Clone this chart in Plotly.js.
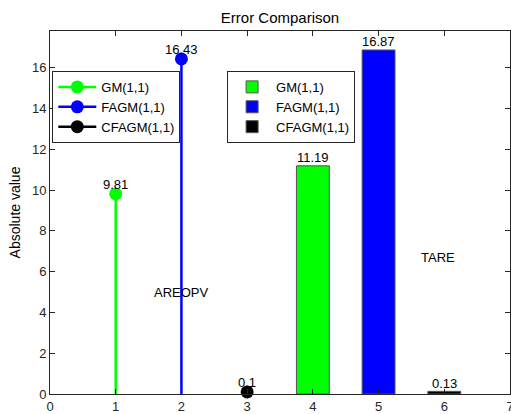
<!DOCTYPE html>
<html>
<head>
<meta charset="utf-8">
<script src="https://cdn.plot.ly/plotly-3.0.1.min.js"></script>
<style>html,body{margin:0;padding:0;background:#fff}#chart{width:511px;height:414px}</style>
</head>
<body>
<div id="chart"></div>
<script>
var seriesNames = ['GM(1,1)', 'FAGM(1,1)', 'CFAGM(1,1)'];
var seriesColors = ['#00ff00', '#0000ff', '#000000'];
var stemX = [1, 2, 3];
var stemValues = [9.81, 16.43, 0.1];
var stemLabels = ['9.81', '16.43', '0.1'];
var barX = [4, 5, 6];
var barValues = [11.19, 16.87, 0.13];
var barLabels = ['11.19', '16.87', '0.13'];
var xTicks = [0, 1, 2, 3, 4, 5, 6, 7];
var yTicks = [0, 2, 4, 6, 8, 10, 12, 14, 16];
var groupLabels = [{text: 'AREOPV', x: 2, y: 5}, {text: 'TARE', x: 5.9, y: 6.7}];

var font = 'Liberation Sans, Arial, sans-serif';
var traces = [];
var annotations = [];
for (var i = 0; i < stemX.length; i++) {
  traces.push({
    type: 'scatter', mode: 'lines+markers',
    x: [stemX[i], stemX[i]], y: [stemValues[i], 0],
    line: {color: seriesColors[i], width: 2.5},
    marker: {color: [seriesColors[i], 'rgba(0,0,0,0)'], size: 13, line: {width: 0}},
    name: seriesNames[i], legend: 'legend', cliponaxis: false
  });
  annotations.push({text: stemLabels[i], x: stemX[i], y: stemValues[i], xref: 'x', yref: 'y',
    showarrow: false, yshift: 9, font: {family: font, size: 13, color: '#000'}});
}
for (var j = 0; j < barX.length; j++) {
  traces.push({
    type: 'bar', x: [barX[j]], y: [barValues[j]], width: 0.5,
    marker: {color: seriesColors[j], line: {color: '#555', width: 1}},
    name: seriesNames[j], legend: 'legend2', cliponaxis: false
  });
  annotations.push({text: barLabels[j], x: barX[j], y: barValues[j], xref: 'x', yref: 'y',
    showarrow: false, yshift: 8, font: {family: font, size: 13, color: '#000'}});
}
groupLabels.forEach(function (g) {
  annotations.push({text: g.text, x: g.x, y: g.y, xref: 'x', yref: 'y', showarrow: false,
    font: {family: font, size: 13, color: '#000'}});
});
var layout = {
  width: 511, height: 414,
  margin: {l: 50, r: 1, t: 31, b: 20},
  paper_bgcolor: '#fff', plot_bgcolor: '#fff',
  font: {family: font, size: 13, color: '#262626'},
  title: {text: 'Error Comparison', x: 0.548, xanchor: 'center', y: 0.9565, yanchor: 'middle',
    font: {family: font, size: 15, color: '#000'}},
  showlegend: true,
  xaxis: {range: [0, 7], tickvals: xTicks, ticks: 'inside', ticklen: 5, tickcolor: '#262626',
    showgrid: false, zeroline: false, showline: true, linecolor: '#262626', linewidth: 1, mirror: 'ticks',
    ticklabeloverflow: 'allow',
    tickfont: {family: font, size: 13, color: '#262626'}},
  yaxis: {range: [0, 17.8], tickvals: yTicks, ticks: 'inside', ticklen: 5, tickcolor: '#262626',
    showgrid: false, zeroline: false, showline: true, linecolor: '#262626', linewidth: 1, mirror: 'ticks',
    tickfont: {family: font, size: 13, color: '#262626'},
    title: {text: 'Absolute value', font: {family: font, size: 14, color: '#000'}, standoff: 8}},
  legend: {x: 0.005, y: 0.89, xanchor: 'left', yanchor: 'top', bgcolor: '#fff',
    bordercolor: '#262626', borderwidth: 1, font: {family: font, size: 13, color: '#000'},
    tracegroupgap: 0, itemwidth: 38},
  legend2: {x: 0.385, y: 0.89, xanchor: 'left', yanchor: 'top', bgcolor: '#fff',
    bordercolor: '#262626', borderwidth: 1, font: {family: font, size: 13, color: '#000'},
    tracegroupgap: 0, itemwidth: 38},
  annotations: annotations,
  bargap: 0
};
Plotly.newPlot('chart', traces, layout, {displayModeBar: false, staticPlot: true});
</script>
</body>
</html>
